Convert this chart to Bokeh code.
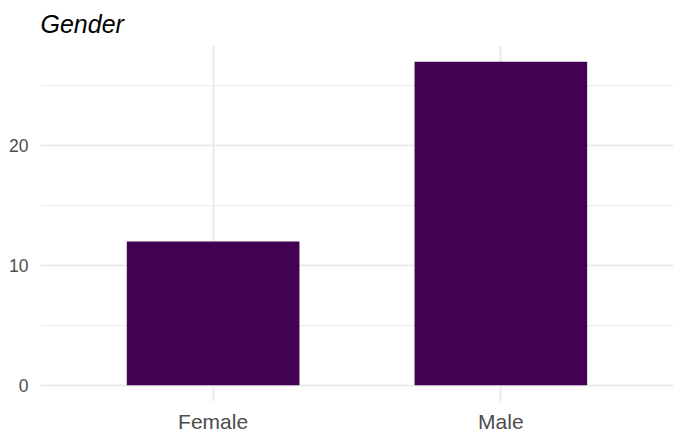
from bokeh.plotting import figure
from bokeh.models import ColumnDataSource, FactorRange, Range1d, FixedTicker, Title, Spacer
from bokeh.layouts import row
from bokeh.embed import file_html
from bokeh.resources import INLINE

categories = ["Female", "Male"]
counts = [12, 27]
y_ticks = [0, 10, 20]
y_minor = [5, 15, 25]

src = ColumnDataSource(dict(cat=categories, n=counts))

p = figure(x_range=FactorRange(factors=categories, range_padding=0.1),
           y_range=Range1d(-1.35, 28.35),
           frame_width=633, frame_height=356,
           output_backend="svg", toolbar_location=None,
           min_border=0, min_border_right=4, min_border_top=2,
           background_fill_color="white", border_fill_color="white")
p.outline_line_color = None

t = Title(text="Gender", text_font="Liberation Sans", text_font_style="italic",
          text_font_size="25px", text_color="black", offset=0, standoff=15)
p.add_layout(t, "above")

p.vbar(x="cat", top="n", width=0.6, bottom=0, source=src,
       fill_color="#440154", line_color=None)

for ax in (p.xaxis[0], p.yaxis[0]):
    ax.axis_line_color = None
    ax.major_tick_line_color = None
    ax.minor_tick_line_color = None
    ax.major_tick_out = 0
    ax.major_tick_in = 0
    ax.minor_tick_out = 0
    ax.minor_tick_in = 0
    ax.major_label_text_font = "Liberation Sans"
    ax.major_label_text_color = "#4D4D4D"

p.yaxis[0].ticker = FixedTicker(ticks=y_ticks, minor_ticks=y_minor)
p.yaxis[0].major_label_text_font_size = "17.5px"
p.yaxis[0].major_label_standoff = 12
p.xaxis[0].major_label_text_font_size = "21px"
p.xaxis[0].major_label_standoff = 8

p.ygrid.grid_line_color = "#EBEBEB"
p.ygrid.grid_line_width = 2
p.ygrid.minor_grid_line_color = "#EBEBEB"
p.ygrid.minor_grid_line_width = 1
p.xgrid.grid_line_color = "#EBEBEB"
p.xgrid.grid_line_width = 2

layout = row(Spacer(width=6, height=10), p)
open("out.html", "w").write(file_html(layout, INLINE))
